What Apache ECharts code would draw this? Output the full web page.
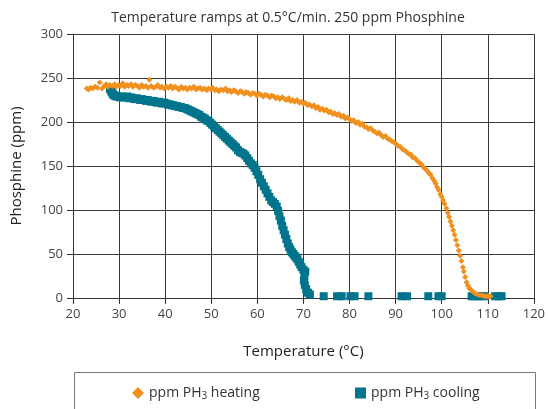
<!DOCTYPE html>
<html><head><meta charset="utf-8">
<script src="https://cdn.jsdelivr.net/npm/echarts@6/dist/echarts.min.js"></script>
<style>html,body{margin:0;padding:0;background:#fff}#c{width:548px;height:409px}</style>
</head><body><div id="c"></div>
<script>
var heatT = [23.0,23.4,23.8,24.3,24.8,25.3,25.8,26.3,26.8,27.2,27.6,28.0,28.5,29.0,29.4,29.9,30.3,30.8,31.2,31.7,32.1,32.6,33.0,33.5,34.0,34.4,34.9,35.3,35.8,36.3,36.6,37.0,37.5,38.0,38.4,38.9,39.3,39.8,40.3,40.7,41.2,41.6,42.1,42.5,43.0,43.5,43.9,44.4,44.8,45.3,45.7,46.2,46.7,47.1,47.6,48.0,48.5,49.0,49.4,49.9,50.3,50.8,51.2,51.7,52.1,52.6,53.1,53.5,54.0,54.4,54.9,55.3,55.8,56.3,56.7,57.2,57.6,58.1,58.5,59.0,59.5,59.9,60.4,60.8,61.3,61.7,62.2,62.7,63.1,63.6,64.0,64.5,64.9,65.4,65.9,66.3,66.8,67.2,67.7,68.1,68.6,69.1,69.5,70.0,70.4,70.9,71.3,71.8,72.3,72.7,73.2,73.6,74.1,74.5,75.0,75.5,75.9,76.4,76.8,77.3,77.7,78.2,78.7,79.1,79.6,80.0,80.5,80.9,81.4,81.9,82.3,82.8,83.2,83.7,84.1,84.6,85.1,85.5,86.0,86.4,86.9,87.3,87.8,88.3,88.7,89.2,89.6,90.1,90.5,91.0,91.5,91.9,92.4,92.8,93.3,93.7,94.2,94.7,95.1,95.6,96.0,96.4,96.8,97.2,97.6,98.0,98.4,98.7,99.0,99.3,99.7,100.0,100.3,100.6,101.0,101.3,101.6,101.9,102.2,102.5,102.8,103.1,103.4,103.7,104.0,104.3,104.6,104.8,105.1,105.4,105.7,106.0,106.4,106.8,107.3,107.8,108.3,108.8,109.3,109.8,110.2,110.6];
var heatPPM = [238,237,239,238,240,239,245,238,241,243,240,242,241,243,240,242,241,244,240,242,241,243,240,242,241,239,242,240,241,239,248,241,239,240,242,239,240,238,240,239,241,238,240,239,237,240,238,239,237,239,238,240,237,238,239,237,238,236,238,237,239,236,237,235,237,236,238,235,236,234,236,235,233,235,234,232,234,233,231,233,232,230,232,231,229,231,230,228,230,229,227,228,226,228,226,225,227,224,225,223,225,222,223,221,222,219,220,218,219,216,217,214,215,213,214,211,212,209,210,208,209,206,207,204,205,203,201,202,199,200,197,198,195,194,192,193,190,189,187,188,185,183,184,181,180,178,177,175,173,172,169,168,166,164,163,160,159,156,154,152,149,147,145,142,140,136,133,130,126,123,118,115,111,107,102,97,92,87,82,77,72,66,60,54,48,42,35,30,24,18,14,11,9,7,5,4,3,3,2,2,2,2];
var coolT = [28.0,28.2,28.4,28.6,28.8,29.0,29.4,29.8,30.2,30.6,31.0,31.4,31.8,32.2,32.6,33.0,33.4,33.8,34.2,34.6,35.0,35.4,35.8,36.2,36.6,37.0,37.4,37.8,38.2,38.6,39.0,39.4,39.8,40.2,40.6,41.0,41.4,41.8,42.2,42.6,43.0,43.4,43.8,44.2,44.6,45.0,45.4,45.8,46.2,46.6,47.0,47.4,47.8,48.2,48.6,49.0,49.4,49.8,50.2,50.6,51.0,51.4,51.8,52.2,52.6,53.0,53.4,53.8,54.2,54.6,55.0,55.4,55.8,56.2,56.6,57.0,57.4,57.8,58.2,58.6,59.0,59.4,59.8,60.2,60.6,61.0,61.4,61.8,62.2,62.6,63.0,63.4,63.8,64.2,64.5,64.8,65.1,65.4,65.7,66.0,66.3,66.6,66.9,67.2,67.5,67.8,68.1,68.4,68.7,69.0,69.3,69.6,70.0,70.4,70.2,70.1,70.3,70.6,71.0,71.4,74.4,77.3,78.3,80.2,81.1,84.1,91.3,92.5,97.1,99.3,100.0,106.5,107.2,107.9,108.6,109.3,111.6,112.3,113.0];
var coolPPM = [238,236,234,232,231,230,229,229,228,229,228,228,229,227,228,227,226,227,226,225,226,225,224,225,224,223,224,223,222,223,222,221,222,221,220,220,219,219,218,218,217,217,216,216,215,214,213,212,211,210,209,208,206,205,204,202,201,199,197,195,193,191,189,187,185,183,181,179,177,175,173,171,168,166,165,164,162,159,156,153,151,148,144,140,135,131,127,123,119,115,111,109,107,104,99,93,88,82,77,72,67,62,58,55,52,50,48,46,44,41,38,35,32,30,25,20,15,10,6,4,2,2,2,2,2,2,2,2,2,2,2,2,2,2,2,2,2,2,2];
var xTicks = [20,30,40,50,60,70,80,90,100,110,120];
var yTicks = [0,50,100,150,200,250,300];
var seriesNames = ['heating','cooling'];

function pairs(a, b) { return a.map(function (v, i) { return [v, b[i]]; }); }
var FONT = 'Open Sans';
var chart = echarts.init(document.getElementById('c'), null, {renderer: 'canvas'});
var legendRich = {
  a: {fontSize: 14, color: '#333', fontFamily: FONT},
  s: {fontSize: 10, color: '#333', fontFamily: FONT, padding: [7, 0, 0, 0]}
};
function legendFmt(n) { return '{a|ppm PH}{s|3}{a| ' + n + '}'; }
chart.setOption({
  animation: false,
  title: {
    text: 'Temperature ramps at 0.5°C/min. 250 ppm Phosphine',
    left: 283, top: 6, textAlign: 'center',
    textStyle: {fontSize: 14, fontWeight: 'normal', color: '#333', fontFamily: FONT}
  },
  grid: {left: 73, right: 12, top: 34, bottom: 111, containLabel: false},
  xAxis: {
    type: 'value', min: xTicks[0], max: xTicks[xTicks.length - 1], interval: 10,
    name: 'Temperature (°C)', nameLocation: 'middle', nameGap: 46,
    nameTextStyle: {fontSize: 15, color: '#222', fontFamily: FONT},
    axisLine: {show: true, lineStyle: {color: '#333', width: 1}},
    axisTick: {show: true, length: 6, lineStyle: {color: '#333'}},
    axisLabel: {fontSize: 13, color: '#444', fontFamily: FONT, margin: 10},
    splitLine: {show: true, lineStyle: {color: '#3a3a3a', width: 1}}
  },
  yAxis: {
    type: 'value', min: yTicks[0], max: yTicks[yTicks.length - 1], interval: 50,
    name: 'Phosphine (ppm)', nameLocation: 'middle', nameGap: 49, nameRotate: 90,
    nameTextStyle: {fontSize: 15, color: '#222', fontFamily: FONT},
    axisLine: {show: true, lineStyle: {color: '#333', width: 1}},
    axisTick: {show: true, length: 6, lineStyle: {color: '#333'}},
    axisLabel: {fontSize: 13, color: '#444', fontFamily: FONT, margin: 10},
    splitLine: {show: true, lineStyle: {color: '#3a3a3a', width: 1}}
  },
  legend: [
    {data: [seriesNames[0]], left: 127, top: 381, itemWidth: 12, itemHeight: 12, itemGap: 8,
     formatter: legendFmt, textStyle: {rich: legendRich}},
    {data: [seriesNames[1]], left: 350, top: 381, itemWidth: 11, itemHeight: 11, itemGap: 8,
     formatter: legendFmt, textStyle: {rich: legendRich}}
  ],
  graphic: [{
    type: 'rect', shape: {x: 74.5, y: 372.5, width: 461, height: 60},
    style: {fill: 'none', stroke: '#777', lineWidth: 1}, silent: true, z: -1
  }],
  series: [
    {name: seriesNames[0], type: 'scatter', symbol: 'diamond', symbolSize: 6,
     itemStyle: {color: '#F0901E', opacity: 1}, data: pairs(heatT, heatPPM), z: 3},
    {name: seriesNames[1], type: 'scatter', symbol: 'rect', symbolSize: 8,
     itemStyle: {color: '#00748C', opacity: 1}, data: pairs(coolT, coolPPM), z: 2}
  ]
});
</script></body></html>
